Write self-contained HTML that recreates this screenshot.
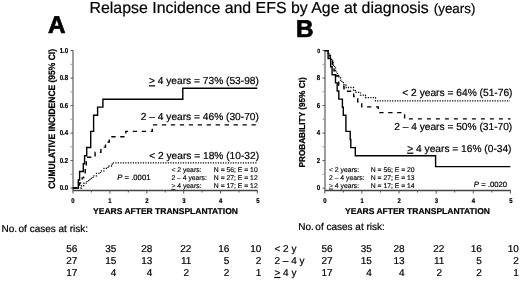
<!DOCTYPE html>
<html><head><meta charset="utf-8">
<style>
html,body{margin:0;padding:0;background:#fff;}
body{width:520px;height:281px;overflow:hidden;}
svg{display:block;text-rendering:geometricPrecision;}
text{font-family:"Liberation Sans",Arial,sans-serif;fill:#000;stroke:#000;stroke-width:0.2;}
.sk{stroke:#000;stroke-width:0.25;}
.lg text{stroke-width:0.14;}
.sk2{stroke:#000;stroke-width:0.35;}
.b{font-weight:bold;}
.ax{stroke:#3a3a3a;stroke-width:1;fill:none;}
.axx{stroke:#444;stroke-width:1.3;fill:none;}
.tk{stroke:#555;stroke-width:1;fill:none;}
.tk2{stroke:#999;stroke-width:1;fill:none;}
.solid{stroke:#000;stroke-width:1.4;fill:none;}
.dash{stroke:#000;stroke-width:1.4;fill:none;stroke-dasharray:4.3 4.66;}
.dot{stroke:#000;stroke-width:1.3;fill:none;stroke-dasharray:1.2 1.3;}
</style></head>
<body>
<svg width="520" height="281" viewBox="0 0 520 281">
<rect width="520" height="281" fill="#fff"/>
<!-- Title -->
<text x="89.5" y="13" font-size="15.9">Relapse Incidence and EFS by Age at diagnosis <tspan font-size="13.4" dx="0.6">(years)</tspan></text>
<text class="b" x="48" y="32.8" font-size="24.3" style="stroke-width:0.7">A</text>
<text class="b" x="296" y="36.5" font-size="24.3" style="stroke-width:0.7">B</text>

<!-- ===== Panel A ===== -->
<g id="A">
<path class="ax" d="M73,50.5 V190"/><path class="axx" d="M72.5,190.5 H257.8"/>
<path class="tk" d="M70.5,50.5H73 M70.5,78.1H73 M70.5,105.6H73 M70.5,133.1H73 M70.5,160.6H73 M70.5,188.1H73"/>
<path class="tk2" d="M70.5,64.3H73 M70.5,91.8H73 M70.5,119.3H73 M70.5,146.8H73 M70.5,174.3H73"/>
<path class="tk" d="M73,190.5V193.5 M109.9,190.5V193.5 M146.8,190.5V193.5 M183.7,190.5V193.5 M220.6,190.5V193.5 M257.3,190.5V193.5 M91.4,190.5V192.5 M128.3,190.5V192.5 M165.2,190.5V192.5 M202.1,190.5V192.5 M239,190.5V192.5"/>
<g class="b" font-size="7.2" text-anchor="end">
<text transform="translate(68.2,52.7) scale(0.85,1)">1.0</text>
<text transform="translate(68.2,80.3) scale(0.85,1)">0.8</text>
<text transform="translate(68.2,107.8) scale(0.85,1)">0.6</text>
<text transform="translate(68.2,135.3) scale(0.85,1)">0.4</text>
<text transform="translate(68.2,162.8) scale(0.85,1)">0.2</text>
<text transform="translate(68.2,190.3) scale(0.85,1)">0.0</text>
</g>
<g class="b" font-size="6.9" text-anchor="middle">
<text transform="translate(73.0,202.9) scale(0.86,1)">0</text>
<text transform="translate(109.9,202.9) scale(0.86,1)">1</text>
<text transform="translate(146.9,202.9) scale(0.86,1)">2</text>
<text transform="translate(183.8,202.9) scale(0.86,1)">3</text>
<text transform="translate(220.6,202.9) scale(0.86,1)">4</text>
<text transform="translate(258.0,202.9) scale(0.86,1)">5</text>
</g>
<text class="b" x="165.5" y="213.6" font-size="8.5" text-anchor="middle">YEARS AFTER TRANSPLANTATION</text>
<text class="b sk" font-size="9.3" text-anchor="middle" transform="translate(55.1,118.9) rotate(-90) scale(0.912,1)">CUMULATIVE INCIDENCE (95% CI)</text>

<path class="solid" d="M72.9,188 H78.3 V180.0 H79.6 V171.5 H83.3 V163.8 H84.6 V155.7 H86.7 V147.5 H90.7 V131.4 H93.6 V115.2 H97.6 V107.1 H102.9 V99.2 H182.8 V88.3 H257.3"/>
<path class="dash" d="M72.9,188 H79.5 V183.0 H82.2 V177.9 H83.6 V172.8 H85.2 V167.7 H86.3 V157.3 H95.1 V152.2 H100.9 V147.1 H105.5 V142.0 H109.3 V136.8 H125.8 V131.4 H152.3 V124.9"/>
<path class="dash" style="stroke-dasharray:4.3 4.66;stroke-dashoffset:8.32" d="M152.3,124.9 H257.3"/>
<path class="dot" d="M72.9,188 H81.5 V185.6 H84 V183.2 H87 V180.7 H90 V178.3 H93 V175.8 H96.5 V173.4 H100.5 V170.9 H104 V168.4 H108 V166.0 H112.2 V162.9 H257.3"/>

<text x="149" y="84.3" font-size="10.2"><tspan text-decoration="underline">&gt;</tspan> 4 years = 73% (53-98)</text>
<text x="140.8" y="120.2" font-size="10.2">2 – 4 years = 46% (30-70)</text>
<text x="149.2" y="159.0" font-size="10.2">&lt; 2 years = 18% (10-32)</text>

<text x="117.3" y="179.8" font-size="7.7"><tspan font-style="italic">P</tspan> = .0001</text>
<g class="lg" font-size="6.8">
<text x="171.4" y="172.0">&lt; 2 years:</text>
<text x="171.4" y="180.0">2 – 4 years:</text>
<text x="171.4" y="188.0"><tspan text-decoration="underline">&gt;</tspan> 4 years:</text>
<text x="257.7" y="172.0" text-anchor="end">N = 56; E = 10</text>
<text x="257.7" y="180.0" text-anchor="end">N = 27; E = 12</text>
<text x="257.7" y="188.0" text-anchor="end">N = 17; E = 12</text>
</g>
</g>

<!-- ===== Panel B ===== -->
<g id="B">
<path class="ax" d="M325,50.5 V190"/><path class="axx" d="M324.5,190.5 H510.9"/>
<path class="tk" d="M322.5,50.5H325 M322.5,78.1H325 M322.5,105.6H325 M322.5,133.1H325 M322.5,160.6H325 M322.5,188.1H325"/>
<path class="tk2" d="M322.5,64.3H325 M322.5,91.8H325 M322.5,119.3H325 M322.5,146.8H325 M322.5,174.3H325"/>
<path class="tk" d="M324.8,190.5V193.5 M361.9,190.5V193.5 M399.0,190.5V193.5 M436.2,190.5V193.5 M473.3,190.5V193.5 M510.4,190.5V193.5 M343.4,190.5V192.5 M380.5,190.5V192.5 M417.6,190.5V192.5 M454.7,190.5V192.5 M491.8,190.5V192.5"/>
<g class="b" font-size="7.2" text-anchor="end">
<text transform="translate(320,53.1) scale(0.85,1)" font-size="6">0</text>
<text transform="translate(320.1,80.3) scale(0.85,1)">8</text>
<text transform="translate(320.1,107.8) scale(0.85,1)">6</text>
<text transform="translate(320.1,135.3) scale(0.85,1)">4</text>
<text transform="translate(320.1,162.8) scale(0.85,1)">2</text>
<text transform="translate(320.1,190.3) scale(0.85,1)">0</text>
</g>
<g class="b" font-size="6.9" text-anchor="middle">
<text transform="translate(324.9,202.9) scale(0.86,1)">0</text>
<text transform="translate(362.2,202.9) scale(0.86,1)">1</text>
<text transform="translate(399.2,202.9) scale(0.86,1)">2</text>
<text transform="translate(436.3,202.9) scale(0.86,1)">3</text>
<text transform="translate(473.4,202.9) scale(0.86,1)">4</text>
<text transform="translate(510.9,202.9) scale(0.86,1)">5</text>
</g>
<text class="b" x="417.5" y="187.5" font-size="8.5" text-anchor="middle" dy="26">YEARS AFTER TRANSPLANTATION</text>
<text class="b sk" font-size="8.6" text-anchor="middle" transform="translate(305.4,122.45) rotate(-90) scale(0.955,1)">PROBABILITY (95% CI)</text>

<path class="solid" d="M324.8,50.6 H328.1 V58.6 H330.7 V66.7 H332.1 V74.8 H335.5 V82.9 H337.2 V91.0 H338.8 V99.1 H342.4 V107.2 H343.3 V115.2 H345.9 V131.4 H350.2 V139.5 H350.8 V147.6 H355.3 V155.7 H435.6 V166.6 H510.4"/>
<path class="dash" d="M324.8,50.6 H328.2 V55.6 H330.2 V60.7 H332.5 V65.8 H334 V70.9 H336.5 V76 H338.7 V86.2 H344 V91.2 H353.7 V96.6 H357.7 V101.7 H361.7 V106.9 H378.2 V112.6 H404.6 V118.9"/>
<path class="dash" style="stroke-dasharray:4.0 5.0;stroke-dashoffset:4.7" d="M404.6,118.9 H510.4"/>
<path class="dot" d="M324.8,50.6 H328 V53 H329.5 V55.5 H330.5 V58 H331.5 V60.5 H332.5 V63 H333.5 V65.4 H334.5 V67.9 H335.5 V70.4 H336.5 V72.8 H337.5 V75.3 H339 V77.7 H340.5 V80.2 H342 V82.6 H344 V85.1 H346.2 V87.5 H353.5 V90.0 H355.3 V92.4 H360.5 V95.2 H365.4 V97.6 H375.5 V100.8 H510"/>

<text x="402.3" y="96" font-size="10.22">&lt; 2 years = 64% (51-76)</text>
<text x="394.2" y="130" font-size="10.2">2 – 4 years = 50% (31-70)</text>
<text x="407.3" y="151.8" font-size="10.2"><tspan text-decoration="underline">&gt;</tspan> 4 years = 16% (0-34)</text>

<text x="507" y="187.4" font-size="7.7" text-anchor="end"><tspan font-style="italic">P</tspan> = .0020</text>
<g class="lg" font-size="6.8">
<text x="329" y="171.5">&lt; 2 years:</text>
<text x="329" y="179.6">2 – 4 years:</text>
<text x="329" y="187.7"><tspan text-decoration="underline">&gt;</tspan> 4 years:</text>
<text x="370.8" y="171.5">N = 56; E = 20</text>
<text x="370.8" y="179.6">N = 27; E = 13</text>
<text x="370.8" y="187.7">N = 17; E = 14</text>
</g>
</g>

<!-- ===== At-risk tables ===== -->
<g font-size="10">
<text x="1.5" y="232.0">No.<tspan dx="-1.3"> of cases at risk:</tspan></text>
<text x="298.3" y="230">No.<tspan dx="-1.3"> of cases at risk:</tspan></text>
</g>
<g font-size="10" text-anchor="end">
<text x="77.3" y="252">56</text><text x="116.4" y="252">35</text><text x="152.3" y="252">28</text><text x="191.4" y="252">22</text><text x="229.4" y="252">16</text><text x="261.4" y="252">10</text>
<text x="77.3" y="264">27</text><text x="116.4" y="264">15</text><text x="152.3" y="264">13</text><text x="191.4" y="264">11</text><text x="229.4" y="264">5</text><text x="261.4" y="264">2</text>
<text x="77.3" y="276">17</text><text x="116.4" y="276">4</text><text x="152.3" y="276">4</text><text x="189" y="276">2</text><text x="229.4" y="276">2</text><text x="261.4" y="276">1</text>

<text x="332.6" y="252">56</text><text x="371.9" y="252">35</text><text x="404.6" y="252">28</text><text x="444.4" y="252">22</text><text x="481.8" y="252">16</text><text x="518.8" y="252">10</text>
<text x="332.6" y="264">27</text><text x="371.9" y="264">15</text><text x="404.6" y="264">13</text><text x="444.4" y="264">11</text><text x="481.8" y="264">5</text><text x="518.8" y="264">2</text>
<text x="332.6" y="276">17</text><text x="371.9" y="276">4</text><text x="404.6" y="276">4</text><text x="442" y="276">2</text><text x="481.8" y="276">2</text><text x="518.8" y="276">1</text>
</g>
<g font-size="10">
<text x="274.5" y="252">&lt; 2 y</text>
<text x="274.5" y="264">2 – 4 y</text>
<text x="274.5" y="276"><tspan text-decoration="underline">&gt;</tspan> 4 y</text>
</g>
</svg>
</body></html>
